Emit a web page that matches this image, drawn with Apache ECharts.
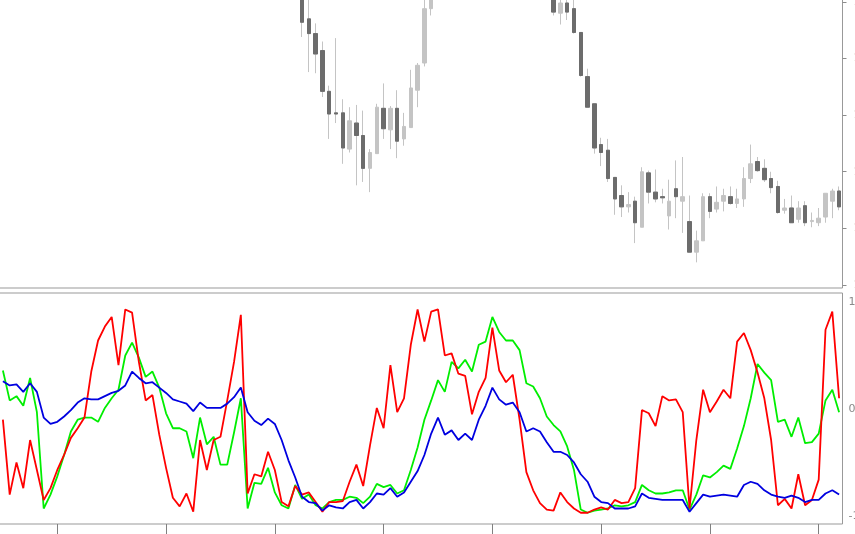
<!DOCTYPE html>
<html>
<head>
<meta charset="utf-8">
<script src="https://cdn.jsdelivr.net/npm/echarts@6/dist/echarts.min.js"></script>
<style>
html,body{margin:0;padding:0;background:#fff;}
#chart{width:855px;height:534px;}
</style>
</head>
<body>
<div id="chart"></div>
<script>
// ---- price panel (candles) ----
const opens = [1.3224,1.3215,1.3196,1.3188,1.3200,1.3182,1.3194,1.3178,1.3170,1.3186,
1.3198,1.3214,1.3226,1.3240,1.3252,1.3248,1.3262,1.3270,1.3258,1.3266,
1.3250,1.3236,1.3220,1.3208,1.3196,1.3184,1.3176,1.3168,1.3172,1.3164,
1.3180,1.3176,1.3190,1.3204,1.3216,1.3230,1.3244,1.3210,1.3196,1.3188,
1.3170,1.3158,1.3146,1.3132,1.3116,1.3085,1.3072,1.3057,1.3021,1.3002,
1.3002,1.2970,1.2993,1.2982,1.2953,1.2966,1.3006,1.2987,1.3006,1.2979,
1.2989,1.3022,1.3046,1.3094,1.3109,1.3122,1.3135,1.3150,1.3146,1.3160,
1.3172,1.3168,1.3180,1.3194,1.3186,1.3176,1.3160,1.3148,1.3136,1.3128,
1.3120,1.3104,1.3090,1.3099,1.3094,1.3073,1.3034,1.3010,1.2974,1.2969,
1.2945,1.2929,1.2919,1.2924,1.2901,1.2949,1.2932,1.2928,1.2911,1.2935,
1.2924,1.2906,1.2879,1.2889,1.2928,1.2917,1.2924,1.2928,1.2922,1.2926,
1.2944,1.2959,1.2953,1.2944,1.2937,1.2916,1.2918,1.2908,1.2920,1.2906,
1.2905,1.2910,1.2924,1.2933];
const closes = [1.3215,1.3196,1.3188,1.3200,1.3182,1.3194,1.3178,1.3170,1.3186,1.3198,
1.3214,1.3226,1.3240,1.3252,1.3248,1.3262,1.3270,1.3258,1.3266,1.3250,
1.3236,1.3220,1.3208,1.3196,1.3184,1.3176,1.3168,1.3172,1.3164,1.3180,
1.3176,1.3190,1.3204,1.3216,1.3230,1.3244,1.3210,1.3196,1.3188,1.3170,
1.3158,1.3146,1.3132,1.3118,1.3082,1.3072,1.3054,1.3021,1.3001,1.3001,
1.2971,1.2995,1.2982,1.2953,1.2967,1.3007,1.2988,1.3006,1.2977,1.2990,
1.3024,1.3044,1.3094,1.3109,1.3122,1.3135,1.3150,1.3146,1.3160,1.3172,
1.3168,1.3180,1.3194,1.3186,1.3176,1.3160,1.3148,1.3136,1.3128,1.3120,
1.3112,1.3091,1.3099,1.3091,1.3073,1.3035,1.3007,1.2971,1.2967,1.2944,
1.2926,1.2919,1.2921,1.2905,1.2950,1.2932,1.2926,1.2927,1.2924,1.2928,
1.2928,1.2879,1.2889,1.2928,1.2915,1.2923,1.2929,1.2922,1.2926,1.2944,
1.2957,1.2951,1.2943,1.2936,1.2914,1.2918,1.2905,1.2918,1.2905,1.2907,
1.2909,1.2931,1.2933,1.2919];
const highs = [1.3230,1.3220,1.3203,1.3206,1.3205,1.3199,1.3198,1.3184,1.3190,1.3204,
1.3219,1.3231,1.3246,1.3258,1.3260,1.3267,1.3276,1.3274,1.3272,1.3270,
1.3255,1.3240,1.3226,1.3213,1.3200,1.3189,1.3181,1.3178,1.3176,1.3185,
1.3186,1.3195,1.3209,1.3222,1.3235,1.3250,1.3248,1.3215,1.3201,1.3192,
1.3175,1.3163,1.3150,1.3136,1.3120,1.3103,1.3081,1.3065,1.3026,1.3068,
1.3014,1.3007,1.3009,1.3004,1.2970,1.3010,1.3028,1.3008,1.3022,1.3002,
1.3040,1.3046,1.3103,1.3112,1.3127,1.3140,1.3155,1.3157,1.3165,1.3177,
1.3179,1.3186,1.3200,1.3198,1.3191,1.3180,1.3165,1.3152,1.3141,1.3133,
1.3125,1.3106,1.3105,1.3104,1.3103,1.3073,1.3041,1.3010,1.2980,1.2979,
1.2945,1.2938,1.2932,1.2928,1.2954,1.2951,1.2952,1.2935,1.2943,1.2960,
1.2963,1.2929,1.2898,1.2931,1.2931,1.2937,1.2935,1.2937,1.2935,1.2954,
1.2974,1.2963,1.2961,1.2950,1.2942,1.2926,1.2929,1.2924,1.2924,1.2914,
1.2918,1.2931,1.2935,1.2937];
const lows = [1.3210,1.3190,1.3182,1.3183,1.3177,1.3178,1.3172,1.3165,1.3166,1.3181,
1.3193,1.3208,1.3221,1.3235,1.3242,1.3243,1.3256,1.3252,1.3253,1.3245,
1.3230,1.3215,1.3202,1.3190,1.3178,1.3170,1.3162,1.3163,1.3158,1.3160,
1.3170,1.3171,1.3185,1.3199,1.3211,1.3225,1.3205,1.3190,1.3182,1.3165,
1.3152,1.3140,1.3126,1.3113,1.3069,1.3038,1.3037,1.3016,1.2979,1.2993,
1.2957,1.2967,1.2938,1.2941,1.2932,1.2966,1.2979,1.2970,1.2962,1.2973,
1.2989,1.3007,1.3043,1.3088,1.3106,1.3117,1.3130,1.3140,1.3141,1.3155,
1.3162,1.3163,1.3175,1.3180,1.3170,1.3155,1.3142,1.3130,1.3122,1.3114,
1.3107,1.3088,1.3080,1.3084,1.3072,1.3034,1.3007,1.2966,1.2955,1.2941,
1.2912,1.2910,1.2914,1.2887,1.2901,1.2922,1.2923,1.2922,1.2899,1.2909,
1.2896,1.2879,1.2870,1.2889,1.2909,1.2914,1.2915,1.2921,1.2918,1.2919,
1.2940,1.2950,1.2941,1.2931,1.2913,1.2913,1.2905,1.2905,1.2902,1.2901,
1.2902,1.2905,1.2909,1.2916];
const priceTicks = [1.2850,1.2900,1.2950,1.3000,1.3050,1.3100];

// ---- oscillator panel ----
const redLine = [-10,-80,-50,-74,-29,-57,-85,-74,-57,-43,
-27,-18,-8,35,64,77,86,41,93,90,
44,8,13,-24,-55,-83,-91,-79,-96,-29,
-57,-29,-26,8,44,88,-79,-61,-63,-40,
-57,-87,-91,-72,-80,-78,-87,-96,-87,-87,
-86,-68,-52,-72,-34,1,-18,41,-3,10,
60,93,63,91,93,50,52,33,31,-5,
16,29,76,36,25,32,-10,-59,-76,-88,
-94,-95,-78,-87,-93,-97,-97,-94,-92,-94,
-85,-88,-87,-74,-1,-4,-16,12,8,9,
-3,-93,-29,18,-3,7,18,10,63,71,
55,34,10,-29,-90,-84,-93,-61,-90,-85,
-66,74,91,10];
const greenLine = [36,8,12,3,29,-3,-93,-80,-63,-43,
-21,-10,-8,-8,-12,1,10,18,50,62,
48,30,35,20,-4,-18,-18,-21,-46,-8,
-33,-26,-52,-52,-22,10,-93,-69,-70,-55,
-78,-90,-93,-71,-84,-80,-90,-93,-87,-85,
-85,-82,-83,-88,-82,-70,-73,-71,-79,-76,
-57,-36,-10,8,27,16,44,38,46,35,
60,63,86,72,64,64,55,24,21,10,
-7,-15,-21,-35,-57,-94,-97,-95,-94,-93,
-90,-91,-90,-87,-71,-76,-79,-79,-78,-76,
-76,-94,-80,-62,-64,-59,-53,-56,-37,-16,
10,42,34,27,-12,-10,-26,-8,-32,-31,
-23,8,18,-3];
const blueLine = [26,22,23,16,24,16,-8,-14,-12,-7,
-1,6,10,9,9,12,15,17,22,35,
29,24,25,20,15,9,7,5,-2,6,
1,1,1,5,11,20,-3,-11,-15,-9,
-14,-29,-48,-64,-82,-87,-88,-95,-90,-92,
-93,-87,-85,-93,-87,-79,-80,-74,-82,-78,
-68,-58,-43,-23,-8,-24,-20,-29,-23,-29,
-10,3,20,9,4,6,-3,-21,-18,-21,
-31,-40,-40,-43,-50,-61,-68,-82,-87,-88,
-93,-93,-93,-91,-79,-83,-84,-85,-85,-85,
-85,-96,-88,-80,-82,-81,-80,-81,-82,-71,
-68,-70,-76,-80,-82,-83,-81,-83,-87,-85,
-85,-79,-76,-80];
const oscTicks = [-100,0,100];

const categories = opens.map((_, i) => String(i + 1));

// tables built for the library
const candleAll = opens.map((o, i) => [o, closes[i], lows[i], highs[i]]);
const bearBodies = opens.map((o, i) => closes[i] < o ? [o, closes[i], closes[i], o] : '-');

const chart = echarts.init(document.getElementById('chart'), null, {renderer: 'canvas'});
const LIGHT = '#c4c4c4', DARK = '#6c6c6c', FRAME = '#999999';
const font = 'DejaVu Sans, Liberation Sans, sans-serif';

chart.setOption({
  animation: false,
  backgroundColor: '#ffffff',
  grid: [
    {left: -0.5, width: 843, top: -1, height: 289, show: true, borderColor: FRAME, borderWidth: 1,
     containLabel: false, outerBoundsMode: 'none'},
    {left: -0.5, width: 843, top: 293, height: 231, show: true, borderColor: FRAME, borderWidth: 1,
     containLabel: false, outerBoundsMode: 'none'}
  ],
  xAxis: [
    {type: 'category', gridIndex: 0, data: categories, boundaryGap: true, position: 'bottom',
     axisLine: {show: false, onZero: false}, axisTick: {show: false}, axisLabel: {show: false}, splitLine: {show: false}},
    {type: 'category', gridIndex: 1, data: categories, boundaryGap: true, position: 'bottom',
     axisLine: {show: false, onZero: false},
     axisTick: {show: true, alignWithLabel: true, interval: (i) => i % 16 === 8, length: 10,
                lineStyle: {color: '#808080', width: 1}},
     axisLabel: {show: false, interval: 0}, splitLine: {show: false}}
  ],
  yAxis: [
    {type: 'value', gridIndex: 0, position: 'right', min: 1.284735, max: 1.310254,
     axisLine: {show: false},
     axisTick: {show: true, length: 4, customValues: priceTicks, lineStyle: {color: '#8c8c8c'}},
     axisLabel: {show: true, customValues: priceTicks, margin: 11, color: '#b89a80',
                 fontSize: 11, fontFamily: font, formatter: v => v.toFixed(4)},
     splitLine: {show: false}},
    {type: 'value', gridIndex: 1, position: 'right', min: -107.5, max: 108.4,
     axisLine: {show: false},
     axisTick: {show: false},
     axisLabel: {show: true, customValues: oscTicks, margin: 6, color: '#8a8a8a',
                 fontSize: 11, fontFamily: font, formatter: v => String(v)},
     splitLine: {show: false}}
  ],
  series: [
    {type: 'candlestick', xAxisIndex: 0, yAxisIndex: 0, data: candleAll, barWidth: 4, clip: true,
     itemStyle: {color: LIGHT, color0: LIGHT, borderColor: LIGHT, borderColor0: LIGHT, borderWidth: 1},
     emphasis: {disabled: true}},
    {type: 'candlestick', xAxisIndex: 0, yAxisIndex: 0, data: bearBodies, barWidth: 4, clip: true,
     itemStyle: {color: DARK, color0: DARK, borderColor: DARK, borderColor0: DARK, borderWidth: 1},
     emphasis: {disabled: true}},
    {type: 'line', xAxisIndex: 1, yAxisIndex: 1, data: greenLine, symbol: 'none', clip: true,
     lineStyle: {color: '#00ee00', width: 1.8}, emphasis: {disabled: true}},
    {type: 'line', xAxisIndex: 1, yAxisIndex: 1, data: redLine, symbol: 'none', clip: true,
     lineStyle: {color: '#ff0000', width: 1.8}, emphasis: {disabled: true}},
    {type: 'line', xAxisIndex: 1, yAxisIndex: 1, data: blueLine, symbol: 'none', clip: true,
     lineStyle: {color: '#0000e0', width: 1.8}, emphasis: {disabled: true}}
  ]
});
</script>
</body>
</html>
